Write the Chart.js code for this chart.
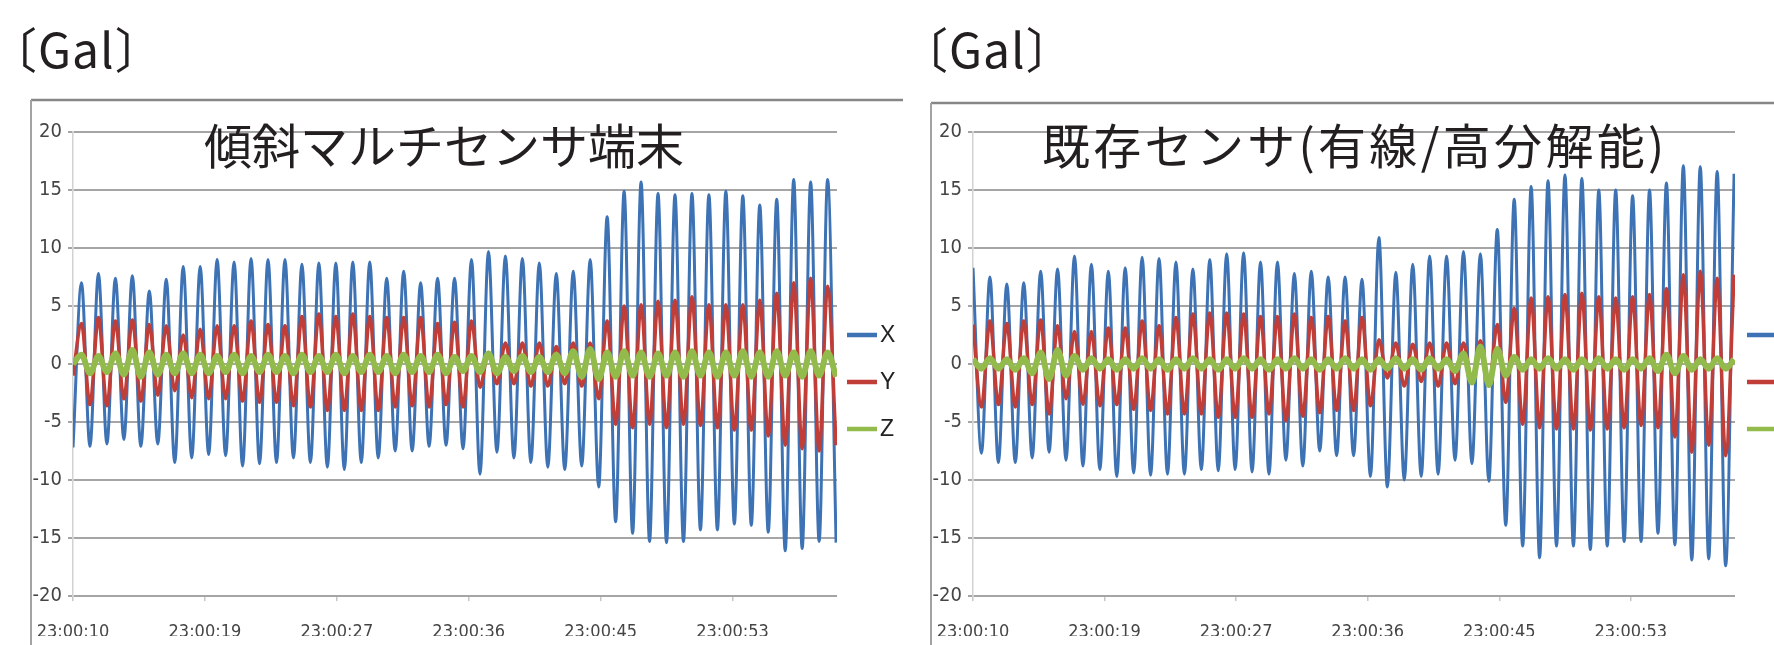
<!DOCTYPE html>
<html lang="ja"><head><meta charset="utf-8">
<script src="https://cdn.jsdelivr.net/npm/chart.js@4.4.1/dist/chart.umd.min.js"></script>
<style>
html,body{margin:0;padding:0;background:#fff;overflow:hidden;}
body{width:1774px;height:645px;position:relative;}
canvas{position:absolute;top:0;}
</style></head>
<body>
<canvas id="chartL" width="903" height="645" style="left:0px"></canvas>
<canvas id="chartR" width="871" height="645" style="left:903px"></canvas>
<script>
// ================= DATA =================
const unitText = '〔Gal〕';
const titleL = '傾斜マルチセンサ端末';
const titleR = '既存センサ(有線/高分解能)';
const seriesNames = ['X', 'Y', 'Z'];
// x ticks: seconds after 23:00:10 and their labels
const tickSeconds = [0, 8.65, 17.3, 25.95, 34.6, 43.25];
const tickLabels = ['23:00:10', '23:00:19', '23:00:27', '23:00:36', '23:00:45', '23:00:53'];
const xMaxSeconds = 50.1;
const halfPeriod = 0.556;   // seconds between successive peak / trough readings
const yMin = -20, yMax = 20, yStep = 5;

// left chart (傾斜マルチセンサ端末): start, then alternating peak / trough
const leftX = [
  -7.2,
  7.0,-7.1, 7.8,-6.9, 7.4,-6.5, 7.6,-7.1, 6.3,-6.9, 7.3,-8.5, 8.4,-8.1, 8.4,-7.8, 9.0,-7.9, 8.8,-8.8,
  9.1,-8.6, 9.0,-8.5, 9.0,-8.1, 8.6,-8.5, 8.7,-8.9, 8.7,-9.1, 8.8,-8.5, 8.8,-8.1, 7.4,-7.5, 8.0,-7.5,
  7.0,-7.1, 7.4,-7.0, 7.4,-7.3, 9.0,-9.5, 9.7,-7.6, 9.3,-8.1, 9.1,-8.5, 8.7,-8.9, 7.8,-9.1, 8.0,-8.8,
  9.0,-10.6, 12.7,-13.6, 14.9,-14.6, 15.7,-15.3, 14.7,-15.4, 14.6,-15.3, 14.7,-14.3, 14.6,-14.3, 14.9,-13.8, 14.5,-13.9,
  13.7,-14.5, 14.2,-16.1, 15.9,-15.9, 15.7,-15.3, 15.9,-15.4
];
const leftY = [
  -1.0,
  3.5,-3.5, 4.0,-3.6, 3.7,-3.0, 3.8,-3.2, 3.4,-2.7, 3.3,-2.3, 2.5,-2.9, 3.0,-3.0, 3.3,-3.0, 3.3,-3.2,
  3.7,-3.3, 3.4,-3.3, 3.3,-3.6, 4.1,-3.7, 4.3,-4.0, 4.1,-4.0, 4.3,-4.0, 4.1,-4.0, 4.0,-3.7, 4.0,-3.6,
  4.0,-3.7, 3.5,-3.5, 3.6,-3.7, 3.7,-2.0, 1.0,-1.7, 1.8,-1.7, 1.8,-1.9, 1.8,-1.9, 1.5,-1.7, 1.8,-1.9,
  1.8,-3.0, 3.7,-5.2, 5.0,-5.5, 5.1,-5.2, 5.4,-5.5, 5.5,-5.2, 5.8,-5.3, 5.1,-5.5, 5.1,-5.7, 5.1,-5.7,
  5.5,-6.2, 6.1,-7.0, 7.0,-7.3, 7.4,-7.5, 6.7,-7.0
];
const leftZ = [
  0.0,
  0.8,-0.8, 0.7,-0.7, 0.9,-0.9, 1.2,-1.1, 1.0,-0.9, 0.8,-0.8, 0.9,-0.8, 0.8,-0.8, 0.7,-0.7, 0.8,-0.8,
  0.7,-0.7, 0.8,-0.7, 0.7,-0.8, 0.8,-0.7, 0.7,-0.7, 0.8,-0.8, 0.7,-0.7, 0.8,-0.7, 0.7,-0.8, 0.8,-0.7,
  0.7,-0.7, 0.8,-0.8, 0.6,-0.6, 0.7,-0.7, 0.9,-0.8, 0.6,-0.6, 0.7,-0.7, 0.6,-0.7, 0.8,-0.8, 1.1,-1.1,
  1.3,-1.3, 1.0,-1.1, 1.1,-1.0, 1.0,-1.1, 0.9,-1.0, 1.0,-1.1, 1.1,-1.0, 1.0,-1.1, 1.0,-1.0, 1.1,-1.1,
  1.0,-1.1, 1.1,-1.0, 1.0,-1.1, 1.1,-1.0, 1.0,-1.1
];

// right chart (既存センサ): start, then alternating trough / peak
const rightX = [
  8.3,
  -7.7,7.5, -8.5,6.9, -8.5,7.0, -8.1,8.0, -7.6,8.2, -8.3,9.3, -8.8,8.6, -9.1,8.0, -9.7,8.3, -9.4,9.2,
  -9.6,9.1, -9.5,8.8, -9.5,8.2, -9.1,9.0, -9.2,9.5, -9.1,9.6, -9.3,8.8, -9.5,8.8, -8.3,7.8, -8.8,8.0,
  -7.5,7.5, -7.9,7.5, -7.9,7.3, -9.7,10.9, -10.6,7.9, -10.0,8.6, -9.7,9.3, -9.5,9.3, -8.3,9.7, -8.6,9.5,
  -10.1,11.6, -13.9,14.2, -15.7,15.3, -16.7,15.8, -15.7,16.3, -15.7,16.0, -16.0,15.0, -15.7,15.0, -15.3,14.5, -15.3,15.0,
  -14.6,15.6, -15.6,17.1, -16.9,17.0, -16.8,16.6, -17.4,16.4
];
const rightY = [
  3.4,
  -3.7,3.7, -3.5,3.5, -3.7,3.7, -3.5,3.8, -4.3,3.3, -3.0,2.8, -3.5,2.8, -3.6,3.1, -3.5,3.1, -3.9,3.7,
  -4.0,3.3, -4.3,4.0, -4.3,4.3, -4.3,4.4, -4.6,4.4, -4.6,4.3, -4.6,4.1, -4.3,4.1, -4.9,4.3, -4.5,4.0,
  -4.2,4.1, -4.0,3.7, -4.0,4.0, -3.6,2.1, -1.2,1.8, -1.9,1.7, -1.5,1.8, -1.9,1.8, -1.7,1.8, -1.5,2.0,
  -1.9,3.4, -3.3,4.8, -5.2,5.7, -5.5,5.8, -5.6,6.0, -5.6,6.1, -5.7,5.8, -5.6,5.7, -5.5,5.8, -5.3,6.0,
  -5.5,6.5, -6.3,7.7, -7.6,8.0, -7.0,7.4, -7.9,7.7
];
const rightZ = [
  0.4,
  -0.4,0.5, -0.4,0.4, -0.5,0.5, -0.8,1.0, -1.3,1.2, -1.0,0.7, -0.5,0.5, -0.4,0.4, -0.5,0.4, -0.4,0.5,
  -0.4,0.4, -0.5,0.4, -0.4,0.5, -0.4,0.4, -0.5,0.4, -0.4,0.5, -0.4,0.4, -0.5,0.4, -0.4,0.5, -0.4,0.4,
  -0.5,0.4, -0.4,0.5, -0.4,0.4, -0.5,0.4, -0.4,0.5, -0.4,0.4, -0.5,0.5, -0.4,0.4, -0.6,0.9, -1.6,1.5,
  -1.8,1.3, -1.0,0.6, -0.5,0.4, -0.4,0.5, -0.4,0.4, -0.5,0.4, -0.4,0.5, -0.4,0.4, -0.5,0.4, -0.4,0.5,
  -0.6,0.8, -0.8,0.7, -0.5,0.4, -0.4,0.5, -0.4,0.4
];

// ================= STYLE =================
const seriesColors = ['#3d72b4', '#c13e38', '#92bb4c'];
const seriesWidths = [3, 3.5, 6];
const tickFont = '"Liberation Sans Narrow", "DejaVu Sans Condensed", "Liberation Sans", sans-serif';
const cjkFont = '"Noto Sans CJK JP", "Noto Sans CJK SC", sans-serif';
const inkColor = '#231f20';

function toPoints(values) {
  return values.map((v, i) => ({x: i * halfPeriod, y: v}));
}

function drawInkText(ctx, text, font, left, top, spacing) {
  ctx.font = font;
  ctx.letterSpacing = (spacing || 0) + 'px';
  ctx.textAlign = 'left';
  ctx.textBaseline = 'alphabetic';
  const m = ctx.measureText(text);
  ctx.fillText(text, left + m.actualBoundingBoxLeft, top + m.actualBoundingBoxAscent);
  ctx.letterSpacing = '0px';
}

const decorPlugin = {
  id: 'decor',
  beforeDraw(chart, _args, o) {
    const ctx = chart.ctx;
    ctx.save();
    // frame of the chart box
    ctx.strokeStyle = '#868686';
    ctx.lineWidth = 2.5;
    ctx.beginPath(); ctx.moveTo(o.boxLeft, o.boxTop); ctx.lineTo(o.boxRight, o.boxTop); ctx.stroke();
    ctx.strokeStyle = '#a2a2a2';
    ctx.lineWidth = 2;
    ctx.beginPath(); ctx.moveTo(o.boxLeft, o.boxTop); ctx.lineTo(o.boxLeft, chart.height); ctx.stroke();
    // unit label
    ctx.fillStyle = inkColor;
    drawInkText(ctx, unitText, '48px ' + cjkFont, o.unitLeft, o.unitTop, 1);
    ctx.restore();
  },
  afterDraw(chart, _args, o) {
    const ctx = chart.ctx;
    const area = chart.chartArea;
    ctx.save();
    // title at 48px, spaced to its ink width
    ctx.fillStyle = inkColor;
    ctx.font = '48px ' + cjkFont;
    ctx.letterSpacing = '0px';
    const m = ctx.measureText(o.title);
    const inkW = m.actualBoundingBoxLeft + m.actualBoundingBoxRight;
    const n = Array.from(o.title).length;
    const spacing = Math.max(0, (o.titleWidth - inkW) / (n - 1));
    drawInkText(ctx, o.title, '48px ' + cjkFont, o.titleLeft, o.titleTop, spacing);
    // legend
    chart.data.datasets.forEach((ds, i) => {
      const yc = area.top + o.legendTop + i * o.legendGap;
      const x0 = area.right + o.legendDx;
      ctx.fillStyle = ds.borderColor;
      ctx.fillRect(x0, yc - 2.25, 30, 4.5);
      if (o.legendText) {
        ctx.fillStyle = '#222222';
        ctx.font = '23px "Liberation Sans", Arial, sans-serif';
        ctx.textAlign = 'left';
        ctx.textBaseline = 'middle';
        ctx.fillText(ds.label, x0 + 33, yc + 1);
      }
    });
    ctx.restore();
  }
};

function buildChart(canvasId, xs, ys, zs, decor, padLeft, padRight) {
  const series = [xs, ys, zs];
  const datasets = series.map((vals, i) => ({
    label: seriesNames[i],
    data: toPoints(vals),
    borderColor: seriesColors[i],
    backgroundColor: seriesColors[i],
    borderWidth: seriesWidths[i],
    pointRadius: 0,
    fill: false,
    cubicInterpolationMode: 'monotone',
    order: 3 - i
  }));
  return new Chart(document.getElementById(canvasId), {
    type: 'line',
    data: {datasets},
    plugins: [decorPlugin],
    options: {
      responsive: false,
      animation: false,
      devicePixelRatio: 1,
      layout: {padding: {left: padLeft, right: padRight, top: 132, bottom: 9}},
      plugins: {
        legend: {display: false},
        tooltip: {enabled: false},
        decor: decor
      },
      scales: {
        x: {
          type: 'linear',
          min: 0,
          max: xMaxSeconds,
          afterBuildTicks: (scale) => { scale.ticks = tickSeconds.map(v => ({value: v})); },
          afterFit: (scale) => { scale.height = 40; },
          ticks: {
            callback: (v, i) => tickLabels[i],
            autoSkip: false,
            maxRotation: 0,
            padding: 21,
            color: '#454545',
            font: {family: tickFont, size: 18}
          },
          grid: {drawOnChartArea: false, drawTicks: true, tickLength: 5, color: '#c6c6c6', lineWidth: 1.5},
          border: {display: false}
        },
        y: {
          min: yMin,
          max: yMax,
          afterFit: (scale) => { scale.width = 42; },
          ticks: {
            stepSize: yStep,
            padding: 6,
            color: '#454545',
            font: {family: tickFont, size: 20}
          },
          grid: {color: '#a5a5a5', lineWidth: 2, tickLength: 5, drawTicks: true},
          border: {display: true, color: '#d2d2d2', width: 1.5}
        }
      }
    }
  });
}

buildChart('chartL', leftX, leftY, leftZ, {
  boxLeft: 31, boxTop: 100, boxRight: 903,
  unitLeft: 23, unitTop: 27,
  title: titleL, titleLeft: 204, titleTop: 123, titleWidth: 479,
  legendTop: 203, legendGap: 47, legendDx: 10, legendText: true
}, 31, 66);

buildChart('chartR', rightX, rightY, rightZ, {
  boxLeft: 28, boxTop: 103, boxRight: 871,
  unitLeft: 31, unitTop: 27,
  title: titleR, titleLeft: 140, titleTop: 123, titleWidth: 617,
  legendTop: 203, legendGap: 47, legendDx: 12, legendText: false
}, 28, 39);
</script>
</body></html>
